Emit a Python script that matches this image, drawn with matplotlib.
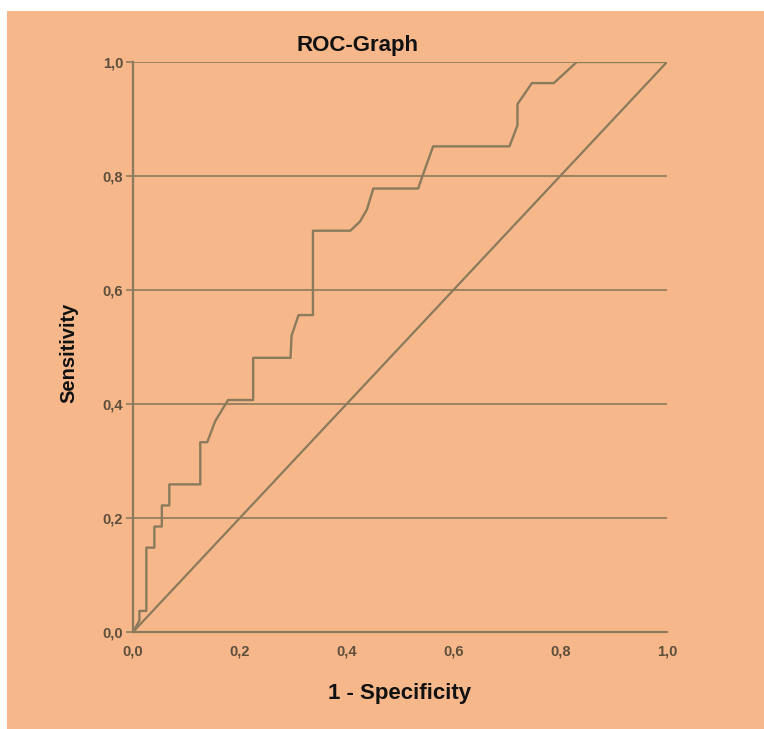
import matplotlib
matplotlib.use("Agg")
import matplotlib.pyplot as plt
from matplotlib.patches import Rectangle

# ---- data ----
fpr = [0, 0.012, 0.012, 0.025, 0.025, 0.040, 0.040, 0.054, 0.054, 0.068, 0.068,
       0.126, 0.126, 0.139, 0.154, 0.178, 0.225, 0.225, 0.295, 0.297, 0.310,
       0.337, 0.337, 0.407, 0.425, 0.438, 0.450, 0.534, 0.544, 0.562, 0.705,
       0.720, 0.720, 0.747, 0.788, 0.831, 1.0]
tpr = [0, 0.020, 0.037, 0.037, 0.148, 0.148, 0.185, 0.185, 0.222, 0.222, 0.259,
       0.259, 0.333, 0.333, 0.370, 0.407, 0.407, 0.481, 0.481, 0.520, 0.556,
       0.556, 0.704, 0.704, 0.720, 0.741, 0.778, 0.778, 0.805, 0.852, 0.852,
       0.889, 0.926, 0.963, 0.963, 1.0, 1.0]
ref_x = [0.0, 1.0]
ref_y = [0.0, 1.0]
ticks = [0.0, 0.2, 0.4, 0.6, 0.8, 1.0]
tick_labels = ["0,0", "0,2", "0,4", "0,6", "0,8", "1,0"]
title = "ROC-Graph"
xlabel = "1 - Specificity"
ylabel = "Sensitivity"

# ---- style ----
bg = "#f6b88a"
line_col = "#8c7a5c"
tick_col = "#5e4e3c"
plt.rcParams['font.family'] = ['Liberation Sans', 'DejaVu Sans']

W, H = 764, 729
fig = plt.figure(figsize=(W / 100, H / 100), dpi=100, facecolor="white")
fig.patches.append(Rectangle((7 / W, 0), 1 - 7 / W, 1 - 11 / H,
                             transform=fig.transFigure, facecolor=bg,
                             edgecolor="none", zorder=-10))

ax = fig.add_axes([133 / W, 1 - 632 / H, (667 - 133) / W, (632 - 62) / H])
ax.set_facecolor(bg)
ax.set_xlim(0, 1)
ax.set_ylim(0, 1)

for t in ticks[1:]:
    ax.axhline(t, color=line_col, lw=1.2, zorder=1)

ax.plot(ref_x, ref_y, color=line_col, lw=1.6, zorder=2)
ax.plot(fpr, tpr, color=line_col, lw=1.7, zorder=3, solid_joinstyle="round")

for s in ["top", "right"]:
    ax.spines[s].set_visible(False)
for s in ["left", "bottom"]:
    ax.spines[s].set_color(line_col)
    ax.spines[s].set_linewidth(1.6)

ax.set_xticks(ticks)
ax.set_xticklabels(tick_labels)
ax.set_yticks(ticks)
ax.set_yticklabels(tick_labels)
ax.tick_params(axis="x", length=0, pad=9, labelsize=10.5, labelcolor=tick_col)
ax.tick_params(axis="y", length=5, width=1.2, color=line_col, pad=2,
               labelsize=10.5, labelcolor=tick_col)
for lab in ax.get_xticklabels() + ax.get_yticklabels():
    lab.set_fontweight("bold")
for lab in ax.get_yticklabels():
    lab.set_va("center_baseline")

fig.text(357 / W, 1 - 45 / H, title, fontsize=16, fontweight="bold",
         color="#111111", ha="center", va="center")
fig.text(400 / W, 1 - 693 / H, xlabel, fontsize=16, fontweight="bold",
         color="#111111", ha="center", va="center")
fig.text(69 / W, 1 - 353 / H, ylabel, fontsize=14.5, fontweight="bold",
         color="#111111", ha="center", va="center", rotation=90)

fig.savefig("out.png", dpi=100, facecolor=fig.get_facecolor())
